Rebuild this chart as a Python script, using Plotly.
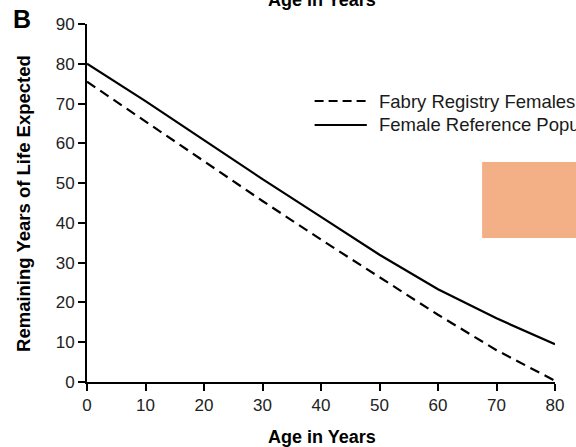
import plotly.graph_objects as go

ages = [0, 10, 20, 30, 40, 50, 60, 70, 80]
fabry_females = [75.5, 65.5, 55.5, 45.5, 35.8, 26.3, 16.9, 8.0, 0.3]
reference_females = [80.0, 70.6, 60.8, 51.0, 41.5, 32.0, 23.3, 16.0, 9.5]
x_ticks = [0, 10, 20, 30, 40, 50, 60, 70, 80]
y_ticks = [0, 10, 20, 30, 40, 50, 60, 70, 80, 90]
series_names = ["Fabry Registry Females", "Female Reference Population"]

FONT = "Liberation Sans, Arial, sans-serif"

fig = go.Figure()
fig.add_trace(go.Scatter(x=ages, y=fabry_females, mode="lines", name=series_names[0],
                         line=dict(color="black", width=2.2, dash="10px,6px"), showlegend=False))
fig.add_trace(go.Scatter(x=ages, y=reference_females, mode="lines", name=series_names[1],
                         line=dict(color="black", width=2.2), showlegend=False))

W, H = 576, 447
L, R, T, B = 87, 14, 24, 65
pw, ph = W - L - R, H - T - B

def px(xp):
    return (xp - L) / pw

def py(yp):
    return (H - B - yp) / ph

shapes = [
    dict(type="line", xref="paper", yref="paper", x0=px(318), x1=px(371), y0=py(101), y1=py(101),
         line=dict(color="black", width=2.2, dash="9px,5px")),
    dict(type="line", xref="paper", yref="paper", x0=px(318), x1=px(371), y0=py(125), y1=py(125),
         line=dict(color="black", width=2.2)),
    dict(type="rect", xref="paper", yref="paper", x0=px(488), x1=px(600), y0=py(238), y1=py(162),
         fillcolor="#F3B087", line=dict(width=0), layer="above"),
]

annotations = [
    dict(text=series_names[0], xref="paper", yref="paper", x=px(381), y=py(101),
         xanchor="left", yanchor="middle", showarrow=False, font=dict(size=18.5, color="#1a1a1a", family=FONT)),
    dict(text=series_names[1], xref="paper", yref="paper", x=px(381), y=py(125),
         xanchor="left", yanchor="middle", showarrow=False, font=dict(size=18.5, color="#1a1a1a", family=FONT)),
    dict(text="<b>Age in Years</b>", xref="paper", yref="paper", x=px(326), y=py(437),
         xanchor="center", yanchor="middle", showarrow=False, font=dict(size=18, color="black", family=FONT)),
    dict(text="<b>Age in Years</b>", xref="paper", yref="paper", x=px(326), y=py(0),
         xanchor="center", yanchor="middle", showarrow=False, font=dict(size=18, color="black", family=FONT)),
    dict(text="<b>Remaining Years of Life Expected</b>", xref="paper", yref="paper", x=px(22), y=py(203),
         xanchor="center", yanchor="middle", showarrow=False, textangle=-90,
         font=dict(size=18.5, color="black", family=FONT)),
    dict(text="<b>B</b>", xref="paper", yref="paper", x=px(21), y=py(19),
         xanchor="center", yanchor="middle", showarrow=False, font=dict(size=25, color="black", family=FONT)),
]

fig.update_layout(
    width=W, height=H,
    margin=dict(l=L, r=R, t=T, b=B),
    paper_bgcolor="white", plot_bgcolor="white",
    font=dict(family=FONT, size=17, color="#222"),
    shapes=shapes, annotations=annotations,
    xaxis=dict(range=[0, 80], tickvals=x_ticks, showgrid=False, zeroline=False,
               showline=True, linecolor="black", linewidth=2,
               ticks="outside", ticklen=7, tickwidth=2, tickcolor="black",
               tickfont=dict(size=17, color="#222", family=FONT)),
    yaxis=dict(range=[0, 90], tickvals=y_ticks, showgrid=False, zeroline=False,
               showline=True, linecolor="black", linewidth=2,
               ticks="outside", ticklen=7, tickwidth=2, tickcolor="black",
               tickfont=dict(size=17, color="#222", family=FONT)),
)

fig.write_html("out.html")
